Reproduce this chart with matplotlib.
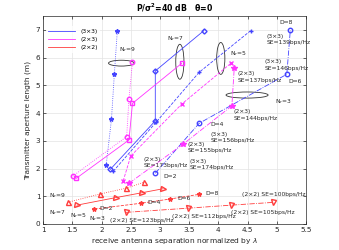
import matplotlib
matplotlib.use("Agg")
import matplotlib.pyplot as plt
from matplotlib.patches import Ellipse

# ---------------- data ----------------
# (3x3) blue
b9_x = [2.08, 2.17, 2.22, 2.27]; b9_y = [2.13, 3.77, 5.42, 6.95]
b7_x = [2.15, 2.92, 2.92, 3.75]; b7_y = [1.97, 3.72, 5.52, 6.97]
b5_x = [2.20, 2.93, 3.67, 4.55]; b5_y = [1.90, 3.66, 5.47, 6.97]
b3_x = [2.92, 3.67, 5.17, 5.23]; b3_y = [1.83, 3.63, 5.40, 7.00]
# (2x3) magenta
m9_x = [1.51, 2.43, 2.47, 2.53]; m9_y = [1.73, 3.15, 4.52, 5.85]
m7_x = [1.57, 2.47, 2.53, 3.37]; m7_y = [1.65, 3.03, 4.35, 5.79]
m5_x = [2.37, 2.50, 3.37, 4.21]; m5_y = [1.55, 2.45, 4.32, 5.79]
m3_x = [2.47, 3.39, 4.23, 4.27]; m3_y = [1.47, 2.87, 4.26, 5.61]
# (2x2) red
r9_x = [1.42, 1.97, 2.42, 2.72]; r9_y = [0.78, 1.08, 1.29, 1.50]
r7_x = [1.58, 2.24, 2.70, 3.05]; r7_y = [0.68, 0.95, 1.13, 1.27]
r5_x = [1.88, 2.68, 3.17, 3.67]; r5_y = [0.54, 0.75, 0.90, 1.07]
r3_x = [2.42, 3.48, 4.22, 4.94]; r3_y = [0.42, 0.57, 0.68, 0.78]

legend_labels = ['(3\u00d73)', '(2\u00d73)', '(2\u00d72)']
xticks = [1, 1.5, 2, 2.5, 3, 3.5, 4, 4.5, 5, 5.5]
yticks = [0, 1, 2, 3, 4, 5, 6, 7]

# annotations: (x, y, text)
notes = [
    (2.30, 6.30, r'N$_r$=9'),
    (3.12, 6.67, r'N$_r$=7'),
    (4.20, 6.15, r'N$_r$=5'),
    (4.97, 4.40, r'N$_r$=3'),
    (5.05, 7.25, 'D=8'),
    (5.19, 5.13, 'D=6'),
    (3.87, 3.57, 'D=4'),
    (3.06, 1.70, 'D=2'),
    (4.82, 6.64, '(3\u00d73)\nSE=139bps/Hz'),
    (4.79, 5.73, '(3\u00d73)\nSE=146bps/Hz'),
    (4.33, 5.30, '(2\u00d73)\nSE=137bps/Hz'),
    (4.26, 3.93, '(2\u00d73)\nSE=144bps/Hz'),
    (3.87, 3.11, '(3\u00d73)\nSE=156bps/Hz'),
    (3.47, 2.75, '(2\u00d73)\nSE=155bps/Hz'),
    (3.51, 2.15, '(3\u00d73)\nSE=174bps/Hz'),
    (2.72, 2.21, '(2\u00d73)\nSE=173bps/Hz'),
    (1.11, 1.02, r'N$_r$=9'),
    (1.11, 0.42, r'N$_r$=7'),
    (1.46, 0.32, r'N$_r$=5'),
    (1.78, 0.18, r'N$_r$=3'),
    (1.97, 0.57, 'D=2'),
    (2.78, 0.77, 'D=4'),
    (3.29, 0.92, 'D=6'),
    (3.78, 1.10, 'D=8'),
    (2.14, 0.14, '(2\u00d72) SE=123bps/Hz'),
    (3.21, 0.26, '(2\u00d72) SE=112bps/Hz'),
    (4.21, 0.42, '(2\u00d72) SE=105bps/Hz'),
    (4.41, 1.08, '(2\u00d72) SE=100bps/Hz'),
]
# ellipses: (cx, cy, w, h)
ellipses = [(2.34, 5.80, 0.44, 0.21), (3.34, 5.85, 0.14, 1.26),
            (4.04, 5.97, 0.14, 1.15), (4.49, 4.65, 0.72, 0.22)]

# ---------------- plot ----------------
BLUE = '#4444ff'; MAG = '#ff33ff'; RED = '#ff3b3b'
fig = plt.figure(figsize=(3.39, 2.5), dpi=100)
ax = fig.add_axes([0.127, 0.104, 0.776, 0.832])
lw = 0.6; ms = 3.2

ax.plot(b9_x, b9_y, ':', color=BLUE, lw=lw, marker='*', ms=ms)
ax.plot(b7_x, b7_y, '-', color=BLUE, lw=lw, marker='D', ms=ms-0.6, mfc='none')
ax.plot(b5_x, b5_y, '--', color=BLUE, lw=lw, marker='+', ms=ms)
ax.plot(b3_x, b3_y, '-.', color=BLUE, lw=lw, marker='o', ms=ms, mfc='none')

ax.plot(m9_x, m9_y, ':', color=MAG, lw=lw, marker='o', ms=ms, mfc='none')
ax.plot(m7_x, m7_y, '-', color=MAG, lw=lw, marker='s', ms=ms, mfc='none')
ax.plot(m5_x, m5_y, '--', color=MAG, lw=lw, marker='x', ms=ms-0.4)
ax.plot(m3_x, m3_y, '-.', color=MAG, lw=lw, marker='*', ms=ms+0.6)

ax.plot(r9_x, r9_y, ':', color=RED, lw=lw, marker='^', ms=ms+0.4, mfc='none')
ax.plot(r7_x, r7_y, '-', color=RED, lw=lw, marker='>', ms=ms+0.4, mfc='none')
ax.plot(r5_x, r5_y, '--', color=RED, lw=lw, marker='*', ms=ms)
ax.plot(r3_x, r3_y, '-.', color=RED, lw=lw, marker='v', ms=ms+0.4, mfc='none')

for cx, cy, w, h in ellipses:
    ax.add_patch(Ellipse((cx, cy), w, h, fill=False, ec='#333333', lw=0.6))

for x, y, t in notes:
    ax.text(x, y, t, fontsize=4.3, color='#262626', ha='left', va='center',
            linespacing=1.3)

hb, = ax.plot([], [], '-', color=BLUE, lw=lw)
hm, = ax.plot([], [], '-', color=MAG, lw=lw)
hr, = ax.plot([], [], '-', color=RED, lw=lw)
leg = ax.legend([hb, hm, hr], legend_labels, loc='upper left', fontsize=4.3,
                frameon=True, handlelength=4.5, borderaxespad=0.5,
                labelspacing=0.5, bbox_to_anchor=(0.0, 0.965))
leg.get_frame().set_edgecolor('white')
leg.get_frame().set_linewidth(0)

ax.set_xlim(1, 5.5)
ax.set_ylim(0, 7.5)
ax.set_xticks(xticks)
ax.set_xticklabels(['1', '1.5', '2', '2.5', '3', '3.5', '4', '4.5', '5', '5.5'])
ax.set_yticks(yticks)
ax.grid(True, color='#e3e3e3', lw=0.5)
ax.set_axisbelow(True)
ax.tick_params(direction='in', labelsize=5.2, length=2, width=0.5,
               colors='#262626', pad=2, top=True, right=True)
for s in ax.spines.values():
    s.set_linewidth(0.5); s.set_color('#262626')

ax.set_xlabel('receive antenna separation normalized by $\\lambda$', fontsize=5.4,
              color='#262626', labelpad=2)
ax.set_ylabel('Transmitter aperture length (m)', fontsize=5.4, color='#262626',
              labelpad=3)
ax.set_title('P/$\\mathbf{\\sigma^2}$=40 dB   $\\mathbf{\\theta}$=0', fontsize=5.6,
             fontweight='bold', pad=3)

fig.savefig('out.png', dpi=100)
